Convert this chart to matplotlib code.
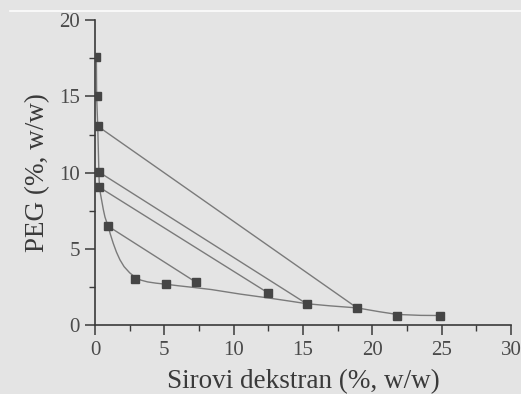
import matplotlib
matplotlib.use("Agg")
import matplotlib.pyplot as plt
from matplotlib.lines import Line2D
from matplotlib.ticker import MultipleLocator

# measured compositions (dextran %, PEG %)
dextran_pts = [0.1, 0.12, 0.2, 0.28, 0.32, 0.95, 2.9, 5.1, 7.25, 12.45, 15.3, 18.9, 21.8, 24.9]
peg_pts = [17.6, 15.0, 13.05, 10.05, 9.05, 6.5, 3.05, 2.7, 2.85, 2.15, 1.4, 1.15, 0.65, 0.65]

# binodal curve
binodal_x = [0.1, 0.12, 0.2, 0.27, 0.3, 0.34, 0.4, 0.48, 0.6, 0.72, 0.85, 0.96, 1.1,
             1.32, 1.55, 1.8, 2.1, 2.5, 2.9, 3.3, 3.8, 4.4, 5.1, 6.0, 7.0, 8.4, 10.5,
             12.5, 14.0, 15.3, 17.0, 18.9, 20.5, 21.8, 23.5, 25.0]
binodal_y = [17.6, 15.0, 13.0, 10.5, 9.5, 9.0, 8.6, 8.2, 7.6, 7.1, 6.75, 6.5, 6.0,
             5.37, 4.8, 4.3, 3.85, 3.45, 3.15, 2.97, 2.85, 2.77, 2.7, 2.6, 2.5, 2.35, 2.05,
             1.8, 1.6, 1.42, 1.28, 1.15, 0.9, 0.72, 0.66, 0.65]

# tie lines: (top phase) -> (bottom phase)
tie_top_x = [0.2, 0.28, 0.32, 0.95]
tie_top_y = [13.05, 10.05, 9.05, 6.5]
tie_bot_x = [18.9, 15.3, 12.45, 7.25]
tie_bot_y = [1.15, 1.4, 2.15, 2.85]

BG = "#e4e4e4"
INK = "#3a3a3a"
LINE = "#7a7a7a"

plt.rcParams["font.family"] = ["Liberation Serif", "DejaVu Serif"]

fig = plt.figure(figsize=(5.21, 3.94), dpi=100, facecolor=BG)
ax = fig.add_axes([0.1823, 0.174, 0.7985, 0.775], facecolor=BG)

ax.plot(binodal_x, binodal_y, color=LINE, lw=1.0, zorder=2)
for x0, y0, x1, y1 in zip(tie_top_x, tie_top_y, tie_bot_x, tie_bot_y):
    ax.plot([x0, x1], [y0, y1], color=LINE, lw=1.0, zorder=2)
ax.plot(dextran_pts, peg_pts, ls="none", marker="s", ms=5.5, color="#454545",
        mec="#454545", zorder=3)

ax.set_xlim(0, 30)
ax.set_ylim(0, 20)
ax.xaxis.set_major_locator(MultipleLocator(5))
ax.xaxis.set_minor_locator(MultipleLocator(2.5))
ax.yaxis.set_major_locator(MultipleLocator(5))
ax.yaxis.set_minor_locator(MultipleLocator(2.5))

for side in ("top", "right"):
    ax.spines[side].set_visible(False)
for side in ("left", "bottom"):
    ax.spines[side].set_color(INK)
    ax.spines[side].set_linewidth(1.2)

ax.tick_params(which="major", direction="out", length=7, width=1.1, color=INK,
               labelsize=15, labelcolor="#4a4a4a", pad=4)
ax.tick_params(which="minor", direction="out", length=4, width=1.0, color=INK)

ax.set_xlabel("Sirovi dekstran (%, w/w)", fontsize=19.5, color="#3a3a3a", labelpad=7)
ax.set_ylabel("PEG (%, w/w)", fontsize=19.5, color="#3a3a3a", labelpad=6)

# faint white rule near the top edge of the page
fig.add_artist(Line2D([10 / 521, 1.0], [1 - 11 / 394, 1 - 11 / 394],
                      color="white", lw=1.2, alpha=0.9))

fig.savefig("out.png", dpi=100, facecolor=BG)
